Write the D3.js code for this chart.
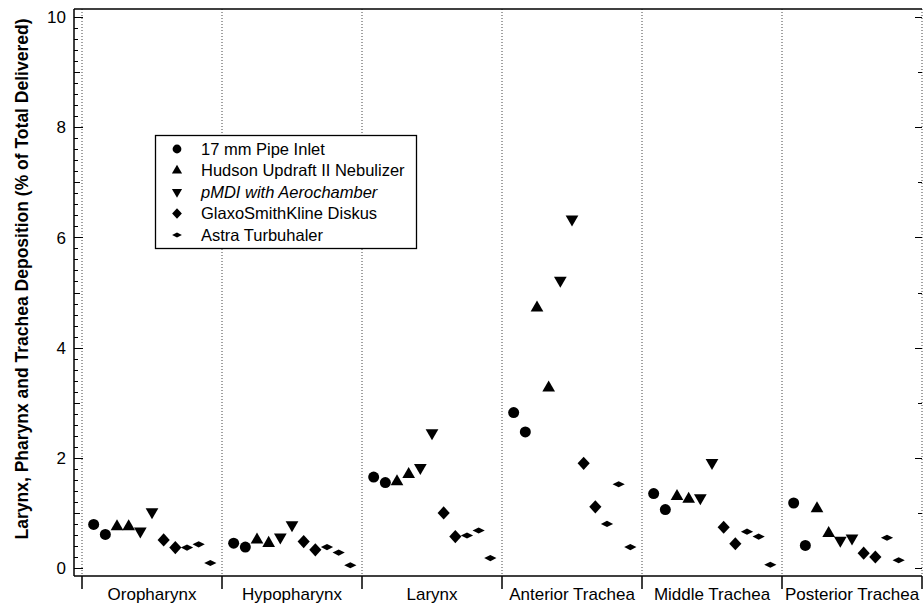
<!DOCTYPE html>
<html>
<head>
<meta charset="utf-8">
<script src="https://cdn.jsdelivr.net/npm/d3@7"></script>
<style>
  html, body { margin: 0; padding: 0; background: #fff; }
  svg { display: block; font-family: Arial, "Liberation Sans", sans-serif; }
</style>
</head>
<body>
<svg id="chart" width="924" height="606"></svg>
<script>
// Regions of the upper airway along the x axis
const categories = ["Oropharynx", "Hypopharynx", "Larynx", "Anterior Trachea", "Middle Trachea", "Posterior Trachea"];

// Deposition (% of total delivered), replicate values per region
const pipeInlet  = [[0.79, 0.61], [0.45, 0.38], [1.65, 1.55], [2.82, 2.47], [1.35, 1.06], [1.18, 0.41]];
const hudson     = [[0.75, 0.75], [0.51, 0.45], [1.57, 1.70], [4.72, 3.27], [1.30, 1.25], [1.08, 0.63]];
const pmdi       = [[0.67, 1.02], [0.56, 0.78], [1.82, 2.45], [5.22, 6.33], [1.27, 1.91], [0.50, 0.54]];
const diskus     = [[0.51, 0.37], [0.48, 0.33], [1.00, 0.57], [1.90, 1.11], [0.74, 0.44], [0.27, 0.20]];
const turbuhaler = [[0.37, 0.43, 0.09], [0.38, 0.28, 0.05], [0.59, 0.68, 0.18], [0.80, 1.52, 0.38], [0.66, 0.57, 0.06], [0.55, 0.14, null]];

const seriesNames = ["17 mm Pipe Inlet", "Hudson Updraft II Nebulizer", "pMDI with Aerochamber", "GlaxoSmithKline Diskus", "Astra Turbuhaler"];
const yTicks = [0, 2, 4, 6, 8, 10];

const svg = d3.select("#chart");

const plotLeft = 74, plotRight = 922, plotTop = 9, plotBottom = 576;
const x = d3.scaleBand().domain(categories).range([82, 922]).padding(0);
const y = d3.scaleLinear().domain([-0.145, 10.145]).range([plotBottom, plotTop]);

// marker shapes for each series
const markers = [
  { type: d3.symbolCircle, size: 95, rot: 0, sx: 1, sy: 1 },
  { type: d3.symbolTriangle, size: 70, rot: 0, sx: 1, sy: 1 },
  { type: d3.symbolTriangle, size: 70, rot: 180, sx: 1, sy: 1 },
  { type: d3.symbolDiamond, size: 50, rot: 0, sx: 1.6, sy: 1 },
  { type: d3.symbolDiamond, size: 40, rot: 0, sx: 1.8, sy: 0.52 }
];
const seriesData = [pipeInlet, hudson, pmdi, diskus, turbuhaler];

// vertical dotted separators between regions
const bounds = categories.map(c => x(c)).concat([x.range()[1]]);
svg.append("g").selectAll("line").data(bounds).join("line")
  .attr("x1", d => d).attr("x2", d => d)
  .attr("y1", plotTop).attr("y2", plotBottom)
  .attr("stroke", "#444").attr("stroke-width", 1)
  .attr("stroke-dasharray", "1,2");

// frame top line
svg.append("line").attr("x1", plotLeft).attr("x2", plotRight).attr("y1", plotTop).attr("y2", plotTop)
  .attr("stroke", "#000").attr("stroke-width", 1.5);

// left axis with inward ticks
const yAxisG = svg.append("g");
yAxisG.append("line").attr("x1", plotLeft).attr("x2", plotLeft).attr("y1", plotTop).attr("y2", plotBottom)
  .attr("stroke", "#000").attr("stroke-width", 1.5);
const minor = d3.range(0, 51, 1).map(i => i / 5);
yAxisG.selectAll("line.minor").data(minor).join("line").attr("class", "minor")
  .attr("x1", plotLeft)
  .attr("x2", d => plotLeft + (Math.abs(d % 2) < 1e-6 ? 9 : (Math.abs(d % 1) < 1e-6 ? 6 : 4)))
  .attr("y1", d => Math.round(y(d)) + 0.5).attr("y2", d => Math.round(y(d)) + 0.5)
  .attr("stroke", "#000").attr("stroke-width", 1);
yAxisG.selectAll("text").data(yTicks).join("text")
  .attr("x", 66).attr("y", d => y(d)).attr("dy", "0.36em")
  .attr("text-anchor", "end").attr("font-size", 17).text(d => d);

// right side ticks pointing inward
svg.append("g").selectAll("line").data(d3.range(0, 11, 1)).join("line")
  .attr("x1", plotRight).attr("x2", d => plotRight - (d % 2 === 0 ? 7 : 4))
  .attr("y1", d => Math.round(y(d)) + 0.5).attr("y2", d => Math.round(y(d)) + 0.5)
  .attr("stroke", "#000").attr("stroke-width", 1);

// bottom axis with outward ticks at region boundaries
svg.append("line").attr("x1", plotLeft).attr("x2", plotRight).attr("y1", plotBottom).attr("y2", plotBottom)
  .attr("stroke", "#000").attr("stroke-width", 1.5);
svg.append("g").selectAll("line").data(bounds).join("line")
  .attr("x1", d => d).attr("x2", d => d)
  .attr("y1", plotBottom).attr("y2", plotBottom + 13)
  .attr("stroke", "#000").attr("stroke-width", 1.5);
svg.append("g").selectAll("text").data(categories).join("text")
  .attr("x", d => x(d) + x.bandwidth() / 2).attr("y", 600)
  .attr("text-anchor", "middle").attr("font-size", 17).text(d => d);

// y axis title
svg.append("text")
  .attr("transform", `translate(28,279) rotate(-90)`)
  .attr("text-anchor", "middle").attr("font-size", 17.5).attr("font-weight", "bold")
  .text("Larynx, Pharynx and Trachea Deposition (% of Total Delivered)");

// data points: eleven slots per region, series in order
const slotW = x.bandwidth() / 12;
const points = [];
categories.forEach((c, ci) => {
  let slot = 1;
  seriesData.forEach((s, si) => {
    s[ci].forEach(v => {
      if (v !== null) points.push({ cx: x(c) + slot * slotW, v, si });
      slot++;
    });
  });
});

function markerPath(m) {
  return d3.symbol().type(m.type).size(m.size)();
}
svg.append("g").selectAll("path").data(points).join("path")
  .attr("d", d => markerPath(markers[d.si]))
  .attr("transform", d => {
    const m = markers[d.si];
    return `translate(${d.cx},${y(d.v)}) rotate(${m.rot}) scale(${m.sx},${m.sy})`;
  })
  .attr("fill", "#000");

// legend
const lg = svg.append("g");
lg.append("rect").attr("x", 155.5).attr("y", 135.5).attr("width", 261).attr("height", 113)
  .attr("fill", "#fff").attr("stroke", "#000").attr("stroke-width", 1.3);
const legendY = [149, 170.5, 192, 213.5, 235];
seriesNames.forEach((name, i) => {
  const m = markers[i];
  lg.append("path").attr("d", markerPath(m))
    .attr("transform", `translate(177,${legendY[i]}) rotate(${m.rot}) scale(${m.sx * 0.8},${m.sy * 0.8})`)
    .attr("fill", "#000");
  lg.append("text").attr("x", 201).attr("y", legendY[i]).attr("dy", "0.36em")
    .attr("font-size", 16.5).attr("font-style", i === 2 ? "italic" : "normal")
    .text(name);
});
</script>
</body>
</html>
